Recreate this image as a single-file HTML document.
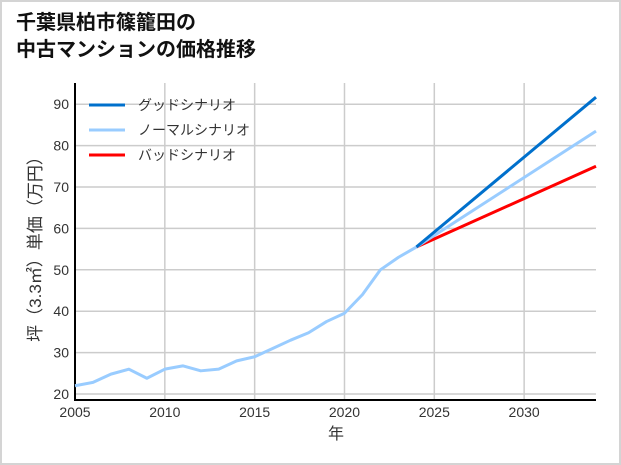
<!DOCTYPE html>
<html><head><meta charset="utf-8"><style>
body{margin:0;background:#fff;}
#wrap{position:relative;width:621px;height:465px;box-sizing:border-box;border:2px solid #d4d4d4;background:#fff;overflow:hidden;}
.title{position:absolute;left:14px;top:8px;font:bold 20px/27px "Liberation Sans","Noto Sans CJK JP",sans-serif;color:#111;}
svg text{font-family:"Liberation Sans","Noto Sans CJK JP",sans-serif;}
</style></head><body>
<div id="wrap">
<div class="title">千葉県柏市篠籠田の<br>中古マンションの価格推移</div>
<svg id="chart" width="621" height="465" style="position:absolute;left:-2px;top:-2px"></svg>
</div>
<script>
const histYears=[2005,2006,2007,2008,2009,2010,2011,2012,2013,2014,2015,2016,2017,2018,2019,2020,2021,2022,2023,2024];
const histValues=[22,22.8,24.8,26,23.8,26,26.8,25.6,26,28,29,31,33,34.8,37.5,39.5,44,50,53,55.5];
const projYears=[2024,2034];
const goodValues=[55.5,91.7];
const normalValues=[55.5,83.5];
const badValues=[55.5,75];
const xTicks=[2005,2010,2015,2020,2025,2030];
const yTicks=[20,30,40,50,60,70,80,90];
const legendLabels=["グッドシナリオ","ノーマルシナリオ","バッドシナリオ"];

const NS="http://www.w3.org/2000/svg";
const svg=document.getElementById('chart');
const L=75,R=596,T=83,B=400;
const x=v=>L+(v-2005)*(R-L)/29;
const y=v=>394-(v-20)*4.14;
function mk(t,a){const e=document.createElementNS(NS,t);for(const k in a)e.setAttribute(k,a[k]);svg.appendChild(e);return e;}
xTicks.forEach(t=>{
  const g=mk('line',{x1:x(t),x2:x(t),y1:T,y2:B,stroke:'#cccccc','stroke-width':1.5});
  
  
  const tx=mk('text',{x:x(t),y:B+17,'text-anchor':'middle','font-size':14,fill:'#333'});
  tx.textContent=t;
  
  
});
yTicks.forEach(t=>{
  const g=mk('line',{x1:L,x2:R,y1:y(t),y2:y(t),stroke:'#cccccc','stroke-width':1.5});
  
  
  const tx=mk('text',{x:L-6,y:y(t)+5,'text-anchor':'end','font-size':14,fill:'#333'});
  tx.textContent=t;
  
  
});
const ax1=mk('line',{x1:L,x2:L,y1:T,y2:B+1,stroke:'#000','stroke-width':2});


const ax2=mk('line',{x1:L,x2:R,y1:B,y2:B,stroke:'#000','stroke-width':2});


function line(xs,vs,c,name){
  const p=mk('polyline',{points:xs.map((v,i)=>x(v)+','+y(vs[i])).join(' '),fill:'none',stroke:c,'stroke-width':3,'stroke-linejoin':'round'});
  
  
}
line(projYears,badValues,'#ff0000','bad-scenario-line');
line(projYears,normalValues,'#99ccff','normal-scenario-line');
line(projYears,goodValues,'#0070cc','good-scenario-line');
line(histYears,histValues,'#99ccff','historical-line');
const colors=['#0070cc','#99ccff','#ff0000'];
legendLabels.forEach((s,i)=>{
  const yy=105+i*25;
  const l=mk('line',{x1:89,x2:125,y1:yy,y2:yy,stroke:colors[i],'stroke-width':3});
  
  
  const t=mk('text',{x:138,y:yy+5,'font-size':14,fill:'#333'});
  t.textContent=s;
  
  
});
const xt=mk('text',{x:336,y:439,'text-anchor':'middle','font-size':16,fill:'#333'});
xt.textContent='年';


const yt=mk('text',{x:0,y:0,'text-anchor':'middle','font-size':17,fill:'#333',transform:'translate(41,245) rotate(-90)'});
yt.textContent='坪（3.3㎡）単価（万円）';


</script>
</body></html>
